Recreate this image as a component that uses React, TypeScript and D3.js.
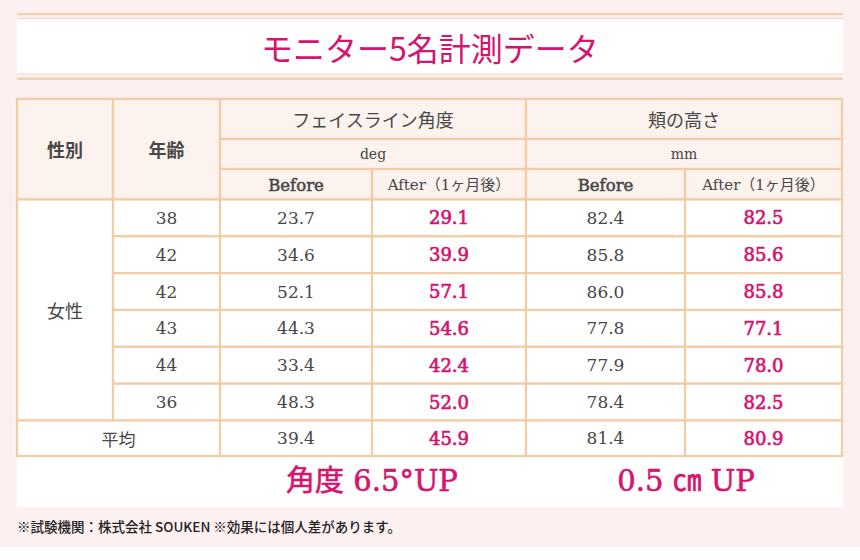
import * as d3 from 'd3'

const title = 'モニター5名計測データ'
const groupHeads = ['フェイスライン角度', '頬の高さ']
const unitHeads = ['deg', 'mm']
const phaseHeads = ['Before', 'After（1ヶ月後）']
const sexLabel = '女性'
const ages = [38, 42, 42, 43, 44, 36]
const angleBefore = [23.7, 34.6, 52.1, 44.3, 33.4, 48.3]
const angleAfter = [29.1, 39.9, 57.1, 54.6, 42.4, 52.0]
const cheekBefore = [82.4, 85.8, 86.0, 77.8, 77.9, 78.4]
const cheekAfter = [82.5, 85.6, 85.8, 77.1, 78.0, 82.5]
const averages = [39.4, 45.9, 81.4, 80.9]
const gains = ['角度 6.5°UP', '0.5 ㎝ UP']
const footnote = '※試験機関：株式会社 SOUKEN ※効果には個人差があります。'

const W = 860
const H = 560
const PINK = '#fdf0f1'
const BORDER = '#f3cba5'
const HEAD_BG = '#fcf2ee'
const MAGENTA = '#d6146f'
const GREY = '#474747'
const SERIF = '"DejaVu Serif", "Noto Sans CJK JP", serif'
const CJK = '"Noto Sans CJK JP", "DejaVu Serif", sans-serif'

// column edges of the table
const colX = [17, 113, 220, 372, 526, 685, 842]
const headY = [99, 139, 169, 199.5]
const avgBottom = 456

export default function App() {
  const fmt = d3.format('.1f')
  const rowIdx = d3.range(ages.length)
  const y = d3.scaleBand<number>().domain(rowIdx).range([headY[3], 420.5])
  const avgTop = y.range()[1]
  const cols = [angleBefore, angleAfter, cheekBefore, cheekAfter]

  const cell = (x0: number, x1: number, y0: number, y1: number, fill: string, key: string) => (
    <rect key={key} x={x0} y={y0} width={x1 - x0} height={y1 - y0}
      fill={fill} stroke={BORDER} strokeWidth={2.2} />
  )
  const cx = (a: number, b: number) => (colX[a] + colX[b]) / 2

  return (
    <svg width={W} height={H} style={{ position: 'absolute', left: 0, top: 0, display: 'block' }}>
      <rect width={W} height={H} fill="#ffffff" />
      <rect width={W} height={547} fill={PINK} />

      {/* title band */}
      <rect x={17} y={19} width={826} height={55} fill="#ffffff" />
      <rect x={17} y={13} width={826} height={2.2} fill="#efd0b2" />
      <rect x={17} y={17.8} width={826} height={1.2} fill="#f3dcc4" />
      <rect x={17} y={73.5} width={826} height={1.2} fill="#f3dcc4" />
      <rect x={17} y={77.5} width={826} height={2.4} fill="#efd0b2" />
      <text x={430} y={47} textAnchor="middle" dominantBaseline="central"
        fontFamily={CJK} fontSize={32} fill={MAGENTA}>{title}</text>

      {/* white area below table for gains */}
      <rect x={17} y={avgBottom} width={826} height={51} fill="#ffffff" />

      {/* header cells */}
      {cell(colX[0], colX[1], headY[0], headY[3], HEAD_BG, 'h-sex')}
      {cell(colX[1], colX[2], headY[0], headY[3], HEAD_BG, 'h-age')}
      {groupHeads.map((g, i) => {
        const a = 2 + i * 2
        return (
          <g key={g}>
            {cell(colX[a], colX[a + 2], headY[0], headY[1], HEAD_BG, 'g')}
            {cell(colX[a], colX[a + 2], headY[1], headY[2], HEAD_BG, 'u')}
            {phaseHeads.map((p, j) => cell(colX[a + j], colX[a + j + 1], headY[2], headY[3], HEAD_BG, 'p' + j))}
            <text x={cx(a, a + 2)} y={(headY[0] + headY[1]) / 2} textAnchor="middle" dominantBaseline="central"
              fontFamily={CJK} fontSize={18} fill={GREY}>{g}</text>
            <text x={cx(a, a + 2)} y={(headY[1] + headY[2]) / 2} textAnchor="middle" dominantBaseline="central"
              fontFamily={SERIF} fontSize={14} fill={GREY}>{unitHeads[i]}</text>
            {phaseHeads.map((p, j) => (
              <text key={p} x={cx(a + j, a + j + 1)} y={(headY[2] + headY[3]) / 2 + 1} textAnchor="middle"
                dominantBaseline="central" fontFamily={SERIF} fontSize={j === 0 ? 16.5 : 15}
                fill={GREY} stroke={j === 0 ? GREY : 'none'} strokeWidth={0.5}>{p}</text>
            ))}
          </g>
        )
      })}
      <text x={cx(0, 1)} y={(headY[0] + headY[3]) / 2} textAnchor="middle" dominantBaseline="central"
        fontFamily={CJK} fontSize={18} fontWeight="bold" fill={GREY}>性別</text>
      <text x={cx(1, 2)} y={(headY[0] + headY[3]) / 2} textAnchor="middle" dominantBaseline="central"
        fontFamily={CJK} fontSize={18} fontWeight="bold" fill={GREY}>年齢</text>

      {/* body */}
      {cell(colX[0], colX[1], headY[3], avgTop, '#ffffff', 'sex')}
      <text x={cx(0, 1)} y={(headY[3] + avgTop) / 2} textAnchor="middle" dominantBaseline="central"
        fontFamily={CJK} fontSize={18} fill={GREY}>{sexLabel}</text>
      {rowIdx.map(i => {
        const y0 = y(i) as number
        const ym = y0 + y.bandwidth() / 2
        return (
          <g key={'r' + i}>
            {cell(colX[1], colX[2], y0, y0 + y.bandwidth(), '#ffffff', 'a')}
            <text x={cx(1, 2)} y={ym} textAnchor="middle" dominantBaseline="central"
              fontFamily={SERIF} fontSize={17} fill={GREY}>{ages[i]}</text>
            {cols.map((c, k) => (
              <g key={k}>
                {cell(colX[2 + k], colX[3 + k], y0, y0 + y.bandwidth(), '#ffffff', 'c')}
                <text x={cx(2 + k, 3 + k)} y={ym} textAnchor="middle" dominantBaseline="central"
                  fontFamily={SERIF} fontSize={k % 2 ? 18 : 17} fill={k % 2 ? MAGENTA : GREY}
                  stroke={k % 2 ? MAGENTA : 'none'} strokeWidth={0.7}>{fmt(c[i])}</text>
              </g>
            ))}
          </g>
        )
      })}

      {/* average row */}
      {cell(colX[0], colX[2], avgTop, avgBottom, '#ffffff', 'avg')}
      <text x={cx(0, 2)} y={(avgTop + avgBottom) / 2} textAnchor="middle" dominantBaseline="central"
        fontFamily={CJK} fontSize={17} fill={GREY}>平均</text>
      {averages.map((v, k) => (
        <g key={'av' + k}>
          {cell(colX[2 + k], colX[3 + k], avgTop, avgBottom, '#ffffff', 'c')}
          <text x={cx(2 + k, 3 + k)} y={(avgTop + avgBottom) / 2} textAnchor="middle" dominantBaseline="central"
            fontFamily={SERIF} fontSize={k % 2 ? 18 : 17} fill={k % 2 ? MAGENTA : GREY}
            stroke={k % 2 ? MAGENTA : 'none'} strokeWidth={0.7}>{fmt(v)}</text>
        </g>
      ))}

      {/* gains */}
      {gains.map((g, i) => (
        <text key={g} x={i === 0 ? 372 : 686} y={481} textAnchor="middle" dominantBaseline="central"
          fontFamily={SERIF} fontSize={29} fill={MAGENTA} stroke={MAGENTA} strokeWidth={0.6}>{g}</text>
      ))}

      <text x={17} y={526} dominantBaseline="central" fontFamily={CJK} fontSize={13.5}
        fontWeight={500} fill="#222">{footnote}</text>
    </svg>
  )
}
